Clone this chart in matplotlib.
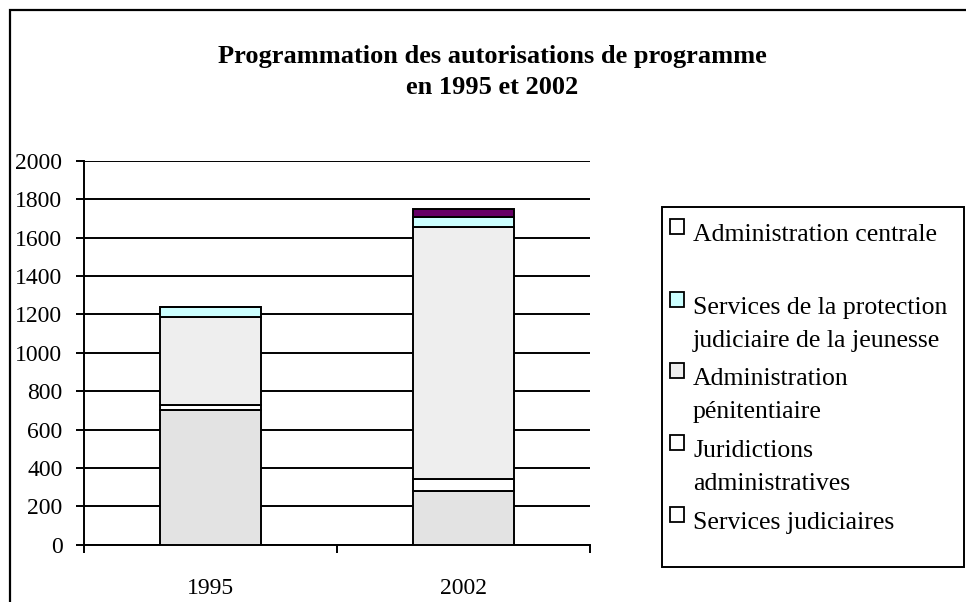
# Programmation des autorisations de programme 1995 / 2002
import matplotlib.pyplot as plt
from matplotlib.patches import Rectangle

plt.rcParams['font.family'] = ['Liberation Serif', 'DejaVu Serif']

years = ['1995', '2002']
services_judiciaires = [700, 280]
juridictions_admin = [30, 62]
admin_penitentiaire = [458, 1311]
protection_jeunesse = [52, 52]
admin_centrale = [0, 43]

series = [services_judiciaires, juridictions_admin, admin_penitentiaire,
          protection_jeunesse, admin_centrale]
bar_colors = ['#E3E3E3', '#FFFFFF', '#EEEEEE', '#CCFFFF', '#660066']

legend_labels = ['Administration centrale',
                 'Services de la protection\njudiciaire de la jeunesse',
                 'Administration\npénitentiaire',
                 'Juridictions\nadministratives',
                 'Services judiciaires']
legend_colors = ['#FFFFFF', '#CCFFFF', '#EEEEEE', '#FFFFFF', '#FFFFFF']

W, H = 966, 602
fig = plt.figure(figsize=(W / 100, H / 100), dpi=100)


def fx(px):
    return px / W


def fy(py):
    return 1 - py / H


ax = fig.add_axes([fx(84), fy(544.7), fx(590) - fx(84), fy(160.7) - fy(544.7)])

pos = [0.5, 1.5]
bottom = [0, 0]
for vals, col in zip(series, bar_colors):
    ax.bar(pos, vals, width=0.4, bottom=bottom, color=col,
           edgecolor='black', linewidth=1.4, zorder=3)
    bottom = [b + v for b, v in zip(bottom, vals)]

ax.set_xlim(0, 2)
ax.set_ylim(0, 2000)
ax.set_yticks(range(0, 2001, 200))
ax.yaxis.grid(True, color='black', linewidth=1.4, zorder=0)
ax.set_xticks([0, 1, 2])
ax.set_xticklabels([])
ax.set_xticks(pos, minor=True)
ax.set_xticklabels(years, minor=True)
ax.tick_params(axis='x', which='minor', length=0, pad=24, labelsize=17)
ax.tick_params(axis='x', which='major', length=6, width=1.4, direction='out')
ax.tick_params(axis='y', length=6, width=1.4, direction='out', pad=9.5, labelsize=17)
for s in ['top', 'right']:
    ax.spines[s].set_visible(False)
for s in ['left', 'bottom']:
    ax.spines[s].set_linewidth(1.4)

fig.text(fx(492), fy(57), 'Programmation des autorisations de programme',
         ha='center', va='center', fontsize=19, fontweight='bold')
fig.text(fx(492), fy(88), 'en 1995 et 2002',
         ha='center', va='center', fontsize=19, fontweight='bold')

# outer frame
fig.patches.append(Rectangle((fx(10), -0.1), 1.2, fy(10) + 0.1, transform=fig.transFigure,
                             fill=False, edgecolor='black', linewidth=1.6))
# legend box
fig.patches.append(Rectangle((fx(662), fy(567)), fx(964) - fx(662), fy(207) - fy(567),
                             transform=fig.transFigure, facecolor='white',
                             edgecolor='black', linewidth=1.4))
marker_tops = [219, 292, 363, 435, 507]
for lab, col, top in zip(legend_labels, legend_colors, marker_tops):
    fig.patches.append(Rectangle((fx(670), fy(top + 15)), fx(14), fy(0) - fy(15),
                                 transform=fig.transFigure, facecolor=col,
                                 edgecolor='black', linewidth=1.3))
    fig.text(fx(693), fy(top + 22), lab.split('\n')[0], ha='left', va='baseline',
             fontsize=18.5)
    if '\n' in lab:
        fig.text(fx(693), fy(top + 55), lab.split('\n')[1], ha='left', va='baseline',
                 fontsize=18.5)

fig.savefig('out.png', dpi=100)
